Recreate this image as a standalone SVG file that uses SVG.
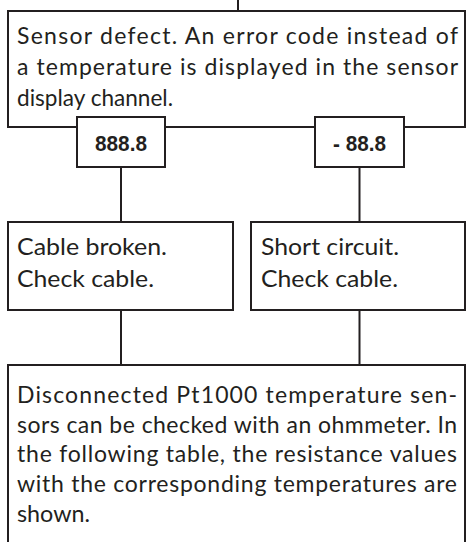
<svg xmlns="http://www.w3.org/2000/svg" width="468" height="542" viewBox="0 0 468 542">
<style>
.box{fill:#fff;stroke:#231f20;stroke-width:2}
.ln{stroke:#231f20;stroke-width:2;fill:none}
.t{font-family:Lato,"Open Sans","Liberation Sans",sans-serif;font-size:23px;fill:#231f20}
.c{font-family:"Liberation Sans",Arial,sans-serif;font-size:22px;font-weight:bold;fill:#231f20;text-anchor:middle}
</style>
<rect width="468" height="542" fill="#fff"/>
<g id="connectors">
<line class="ln" x1="238" y1="0" x2="238" y2="11"/>
<line class="ln" x1="121" y1="167" x2="121" y2="222"/>
<line class="ln" x1="359.5" y1="167" x2="359.5" y2="222"/>
<line class="ln" x1="121" y1="310" x2="121" y2="365"/>
<line class="ln" x1="359.5" y1="310" x2="359.5" y2="365"/>
</g>
<g id="defect">
<rect class="box" x="8" y="11" width="457" height="116"/>
<text class="t" x="17" y="43.5" textLength="441" lengthAdjust="spacing">Sensor defect. An error code instead of</text>
<text class="t" x="17" y="74.5" textLength="441" lengthAdjust="spacing">a temperature is displayed in the sensor</text>
<text class="t" x="17" y="105.5" textLength="156" lengthAdjust="spacingAndGlyphs">display channel.</text>
</g>
<g id="code888">
<rect class="box" x="77" y="117" width="88" height="50"/>
<text class="c" x="121" y="151" textLength="52" lengthAdjust="spacingAndGlyphs">888.8</text>
</g>
<g id="codeminus">
<rect class="box" x="315" y="117" width="89" height="50"/>
<text class="c" x="359.5" y="151" textLength="53" lengthAdjust="spacingAndGlyphs">- 88.8</text>
</g>
<g id="broken">
<rect class="box" x="8" y="222" width="225" height="88"/>
<text class="t" x="17" y="255" textLength="150" lengthAdjust="spacingAndGlyphs">Cable broken.</text>
<text class="t" x="17" y="287" textLength="137" lengthAdjust="spacingAndGlyphs">Check cable.</text>
</g>
<g id="short">
<rect class="box" x="251" y="222" width="214" height="88"/>
<text class="t" x="261" y="255" textLength="138" lengthAdjust="spacingAndGlyphs">Short circuit.</text>
<text class="t" x="261" y="287" textLength="137" lengthAdjust="spacingAndGlyphs">Check cable.</text>
</g>
<g id="ohmmeter">
<rect class="box" x="8" y="365" width="457" height="200"/>
<text class="t" x="17" y="403" textLength="440" lengthAdjust="spacing">Disconnected Pt1000 temperature sen-</text>
<text class="t" x="17" y="432.7" textLength="440" lengthAdjust="spacing">sors can be checked with an ohmmeter. In</text>
<text class="t" x="17" y="462.4" textLength="440" lengthAdjust="spacing">the following table, the resistance values</text>
<text class="t" x="17" y="492" textLength="440" lengthAdjust="spacing">with the corresponding temperatures are</text>
<text class="t" x="17" y="521.8" textLength="73" lengthAdjust="spacingAndGlyphs">shown.</text>
</g>
</svg>
